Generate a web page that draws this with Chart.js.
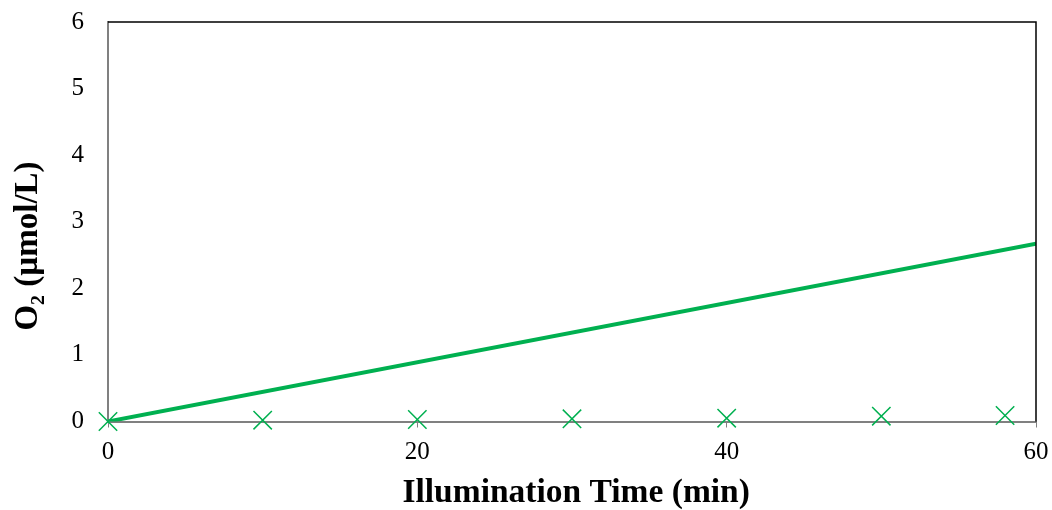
<!DOCTYPE html>
<html>
<head>
<meta charset="utf-8">
<script src="https://cdn.jsdelivr.net/npm/chart.js@4.4.1/dist/chart.umd.min.js"></script>
<style>
  html, body { margin: 0; padding: 0; background: #fff; }
  #wrap { width: 1052px; height: 510px; }
</style>
</head>
<body>
<div id="wrap"><canvas id="chart-o2"></canvas></div>
<script>
// measured O2 during illumination
const time_meas = [0, 10, 20, 30, 40, 50, 58];
const o2_meas = [0, 0.02, 0.03, 0.04, 0.05, 0.08, 0.09];

// fitted line
const time_fit = [0, 60];
const o2_fit = [0, 2.67];

const x_ticks = [0, 20, 40, 60];
const y_ticks = [0, 1, 2, 3, 4, 5, 6];

const x_title = 'Illumination Time (min)';
const y_title = 'O₂ (µmol/L)';

const green = '#00b050';
const axisGrey = '#808080';

function toPoints(xs, ys) {
    return xs.map((x, i) => ({ x: x, y: ys[i] }));
}

const tickFont = { family: 'Liberation Serif', size: 25 };
const titleFont = { family: 'Liberation Serif', size: 33.5, weight: 'bold', lineHeight: 1 };

// top/right edges of the plot box + rotated y title (sits a bit below centre)
const frame = {
    id: 'frame',
    afterDraw(chart) {
        const a = chart.chartArea;
        const ctx = chart.ctx;
        ctx.save();
        ctx.strokeStyle = '#000000';
        ctx.lineWidth = 1.5;
        ctx.beginPath();
        ctx.moveTo(a.left, a.top);
        ctx.lineTo(a.right, a.top);
        ctx.lineTo(a.right, a.bottom);
        ctx.stroke();

        ctx.translate(28, 246);
        ctx.rotate(-Math.PI / 2);
        ctx.font = 'bold 33px "Liberation Serif"';
        ctx.fillStyle = '#000';
        ctx.textAlign = 'center';
        ctx.textBaseline = 'middle';
        ctx.fillText(y_title, 0, 0);
        ctx.restore();
    }
};

var ctx_o2 = document.getElementById('chart-o2').getContext('2d');
var chart_o2 = new Chart(ctx_o2, {
    type: 'scatter',
    data: {
        datasets: [{
            label: 'fit',
            data: toPoints(time_fit, o2_fit),
            showLine: true,
            borderColor: green,
            borderWidth: 4,
            pointRadius: 0,
            fill: false
        }, {
            label: 'O2',
            data: toPoints(time_meas, o2_meas),
            showLine: false,
            clip: false,
            pointStyle: 'crossRot',
            pointRadius: 13,
            borderColor: green,
            backgroundColor: green,
            pointBorderWidth: 1.5
        }]
    },
    plugins: [frame],
    options: {
        responsive: true,
        maintainAspectRatio: false,
        animation: false,
        layout: { padding: { top: 22, right: 16, left: 0, bottom: 0 } },
        plugins: {
            legend: { display: false },
            tooltip: { enabled: false }
        },
        scales: {
            x: {
                type: 'linear',
                min: 0,
                max: 60,
                afterBuildTicks: (s) => { s.ticks = x_ticks.map(v => ({ value: v })); },
                afterFit: (s) => {
                    s.height = 88.5;
                    s.paddingLeft = 0;
                    s.paddingRight = 0;
                },
                grid: {
                    drawOnChartArea: false,
                    drawTicks: true,
                    tickLength: 6,
                    color: axisGrey
                },
                border: { color: axisGrey, width: 2 },
                ticks: { font: tickFont, color: '#000', padding: 10, maxRotation: 0 },
                title: {
                    display: true,
                    text: '\u00a0' + x_title,
                    font: titleFont,
                    color: '#000',
                    padding: { top: 0, bottom: 0 }
                }
            },
            y: {
                type: 'linear',
                min: 0,
                max: 6,
                afterBuildTicks: (s) => { s.ticks = y_ticks.map(v => ({ value: v })); },
                afterFit: (s) => {
                    s.width = 108;
                    s.paddingTop = 0;
                    s.paddingBottom = 0;
                },
                grid: { drawOnChartArea: false, drawTicks: false },
                border: { color: axisGrey, width: 2 },
                ticks: { font: tickFont, color: '#000', padding: 24 }
            }
        }
    }
});
</script>
</body>
</html>
